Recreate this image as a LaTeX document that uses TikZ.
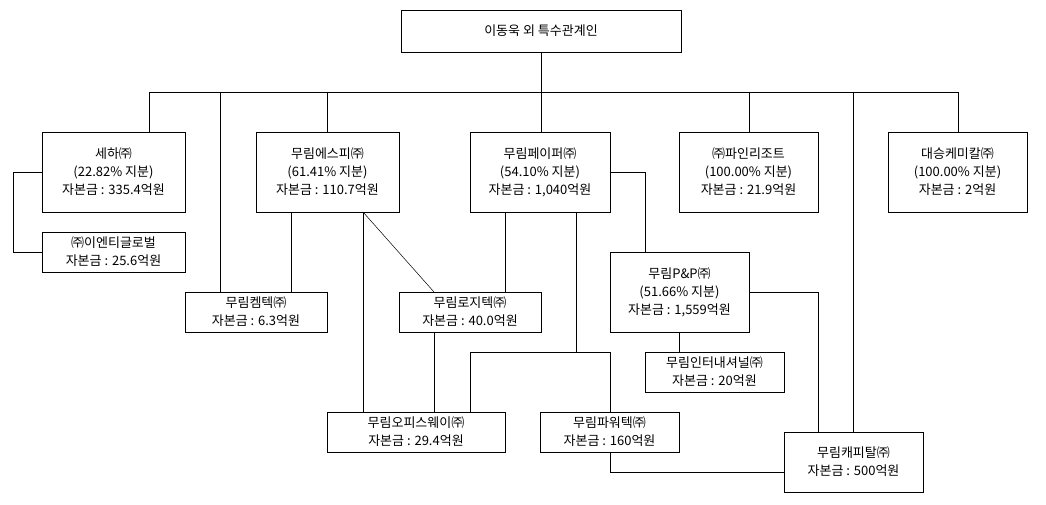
\documentclass[tikz,border=0pt]{standalone}
\usepackage{fontspec}
\setmainfont{Noto Sans CJK KR}
\begin{document}
\begin{tikzpicture}[x=1pt,y=-1pt,line width=0.9pt,
 bx/.style={draw,fill=white,inner sep=0pt,align=center,font=\fontsize{13}{18}\selectfont}]
\useasboundingbox (0,0) rectangle (1046,505);
\newcommand\bxat[6]{\node[bx,minimum width=#4-#2,minimum height=#5-#3] (#1) at ({(#2+#4)/2},{(#3+#5)/2}) {#6};}
\draw (541,52) -- (541,92);
\draw (149,132) -- (149,92) -- (958,92) -- (958,132);
\draw (220,92) -- (220,292);
\draw (327,92) -- (327,132);
\draw (541,92) -- (541,132);
\draw (749,92) -- (749,132);
\draw (853,92) -- (853,432);
\draw (42,172) -- (13,172) -- (13,252) -- (42,252);
\draw (291,212) -- (291,292);
\draw[line width=0.5pt] (363,212) -- (434,292);
\draw (363,212) -- (363,412);
\draw (505,212) -- (505,292);
\draw (434,332) -- (434,412);
\draw (576,212) -- (576,352);
\draw (470,412) -- (470,352) -- (610,352) -- (610,412);
\draw (610,452) -- (610,472) -- (784,472);
\draw (610,172) -- (645,172) -- (645,252);
\draw (749,292) -- (818,292) -- (818,432);
\draw (679,332) -- (679,352);
\bxat{top}{401}{10}{681}{52}{이동욱 외 특수관계인}
\bxat{seha}{42}{132}{185}{212}{세하㈜\\(22.82\% 지분)\\자본금 : 335.4억원}
\bxat{esp}{256}{132}{399}{212}{무림에스피㈜\\(61.41\% 지분)\\자본금 : 110.7억원}
\bxat{paper}{470}{132}{610}{212}{무림페이퍼㈜\\(54.10\% 지분)\\자본금 : 1,040억원}
\bxat{pine}{679}{132}{818}{212}{㈜파인리조트\\(100.00\% 지분)\\자본금 : 21.9억원}
\bxat{ds}{888}{132}{1027}{212}{대승케미칼㈜\\(100.00\% 지분)\\자본금 : 2억원}
\bxat{ent}{42}{232}{185}{272}{㈜이엔티글로벌\\자본금 : 25.6억원}
\bxat{chem}{185}{292}{327}{332}{무림켐텍㈜\\자본금 : 6.3억원}
\bxat{logi}{399}{292}{541}{332}{무림로지텍㈜\\자본금 : 40.0억원}
\bxat{pnp}{610}{252}{749}{332}{무림P\&P㈜\\(51.66\% 지분)\\자본금 : 1,559억원}
\bxat{intl}{645}{352}{784}{392}{무림인터내셔널㈜\\자본금 : 20억원}
\bxat{office}{327}{412}{505}{452}{무림오피스웨이㈜\\자본금 : 29.4억원}
\bxat{power}{540}{412}{679}{452}{무림파워텍㈜\\자본금 : 160억원}
\bxat{cap}{784}{432}{923}{492}{무림캐피탈㈜\\자본금 : 500억원}
\end{tikzpicture}
\end{document}
